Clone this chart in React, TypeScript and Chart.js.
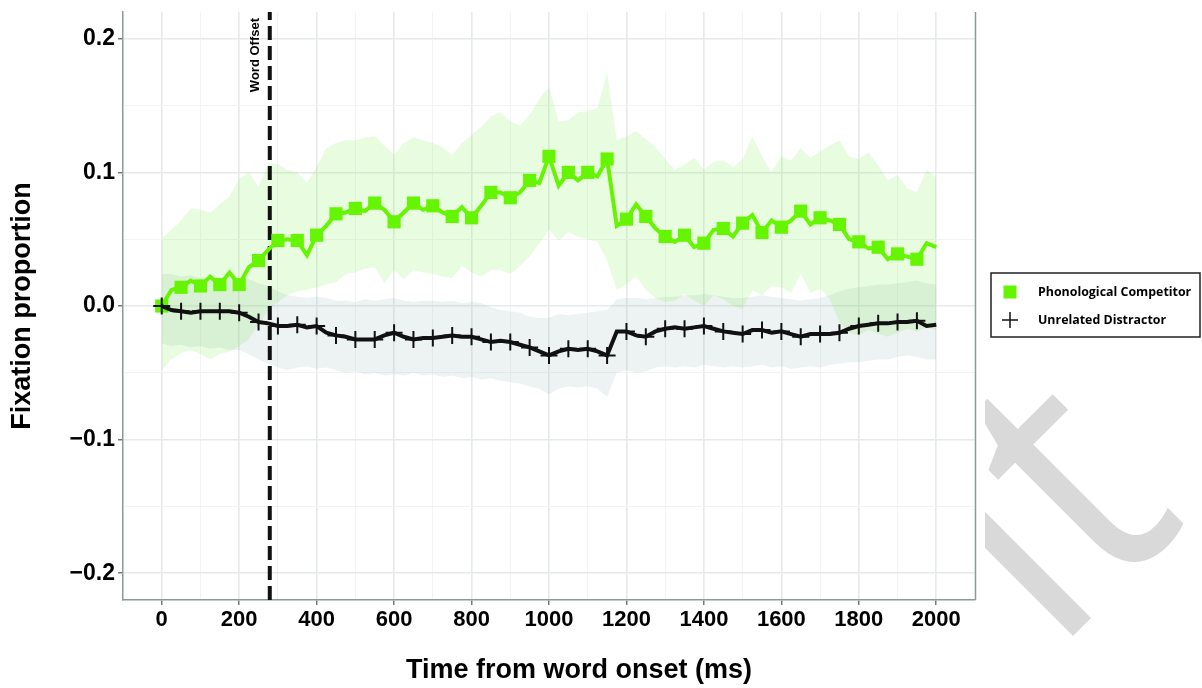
import React, { useEffect, useRef } from 'react';
import { Chart, registerables } from 'chart.js';

Chart.register(...registerables);

// ---------------- data ----------------
const TIME = [
  0, 25, 50, 75, 100, 125, 150, 175,
  200, 225, 250, 275, 300, 325, 350, 375,
  400, 425, 450, 475, 500, 525, 550, 575,
  600, 625, 650, 675, 700, 725, 750, 775,
  800, 825, 850, 875, 900, 925, 950, 975,
  1000, 1025, 1050, 1075, 1100, 1125, 1150, 1175,
  1200, 1225, 1250, 1275, 1300, 1325, 1350, 1375,
  1400, 1425, 1450, 1475, 1500, 1525, 1550, 1575,
  1600, 1625, 1650, 1675, 1700, 1725, 1750, 1775,
  1800, 1825, 1850, 1875, 1900, 1925, 1950, 1975,
  2000,
];

const PHON_MEAN = [
  0.000, 0.012, 0.014, 0.019, 0.015, 0.022, 0.016, 0.025,
  0.016, 0.029, 0.034, 0.042, 0.049, 0.050, 0.049, 0.038,
  0.053, 0.060, 0.069, 0.070, 0.073, 0.071, 0.077, 0.072,
  0.063, 0.070, 0.077, 0.072, 0.075, 0.070, 0.067, 0.074,
  0.066, 0.075, 0.085, 0.085, 0.081, 0.085, 0.094, 0.092,
  0.112, 0.090, 0.100, 0.094, 0.100, 0.097, 0.110, 0.060,
  0.065, 0.076, 0.067, 0.058, 0.052, 0.048, 0.053, 0.044,
  0.047, 0.057, 0.058, 0.052, 0.062, 0.068, 0.055, 0.064,
  0.059, 0.064, 0.071, 0.061, 0.066, 0.064, 0.061, 0.050,
  0.048, 0.043, 0.044, 0.035, 0.039, 0.037, 0.035, 0.047,
  0.044,
];

const PHON_UPPER = [
  0.051, 0.057, 0.064, 0.073, 0.072, 0.070, 0.076, 0.082,
  0.095, 0.100, 0.089, 0.107, 0.106, 0.102, 0.100, 0.092,
  0.104, 0.118, 0.122, 0.124, 0.124, 0.126, 0.127, 0.120,
  0.113, 0.122, 0.126, 0.124, 0.122, 0.119, 0.113, 0.122,
  0.128, 0.134, 0.142, 0.145, 0.138, 0.135, 0.143, 0.155,
  0.164, 0.138, 0.139, 0.145, 0.146, 0.148, 0.175, 0.124,
  0.127, 0.131, 0.125, 0.119, 0.110, 0.102, 0.106, 0.111,
  0.102, 0.108, 0.109, 0.104, 0.110, 0.127, 0.112, 0.100,
  0.112, 0.109, 0.118, 0.111, 0.116, 0.120, 0.124, 0.112,
  0.110, 0.115, 0.105, 0.094, 0.098, 0.088, 0.085, 0.102,
  0.096,
];

const PHON_LOWER = [
  -0.048, -0.040, -0.035, -0.033, -0.036, -0.040, -0.036, -0.034,
  -0.030, -0.025, -0.014, -0.003, 0.003, 0.008, 0.011, 0.012,
  0.014, 0.016, 0.018, 0.024, 0.025, 0.028, 0.029, 0.017,
  0.027, 0.020, 0.027, 0.025, 0.024, 0.022, 0.021, 0.030,
  0.025, 0.022, 0.027, 0.027, 0.024, 0.030, 0.037, 0.047,
  0.057, 0.049, 0.055, 0.052, 0.050, 0.048, 0.034, 0.012,
  0.016, 0.022, 0.012, 0.006, 0.003, 0.004, 0.009, 0.004,
  0.000, 0.008, 0.005, 0.000, -0.002, 0.012, 0.008, 0.015,
  0.014, 0.010, 0.024, 0.010, 0.013, 0.005, -0.012, -0.020,
  -0.022, -0.018, -0.021, -0.023, -0.020, -0.017, -0.019, -0.016,
  -0.018,
];

const UNREL_MEAN = [
  0.000, -0.003, -0.004, -0.005, -0.004, -0.004, -0.004, -0.004,
  -0.005, -0.008, -0.012, -0.013, -0.015, -0.015, -0.014, -0.016,
  -0.015, -0.020, -0.022, -0.023, -0.025, -0.025, -0.025, -0.022,
  -0.020, -0.023, -0.025, -0.024, -0.024, -0.023, -0.022, -0.023,
  -0.023, -0.025, -0.027, -0.026, -0.027, -0.029, -0.031, -0.034,
  -0.037, -0.034, -0.032, -0.033, -0.032, -0.034, -0.037, -0.019,
  -0.019, -0.022, -0.023, -0.019, -0.017, -0.016, -0.017, -0.016,
  -0.015, -0.017, -0.019, -0.020, -0.021, -0.018, -0.018, -0.020,
  -0.019, -0.021, -0.023, -0.021, -0.021, -0.021, -0.020, -0.017,
  -0.015, -0.014, -0.013, -0.013, -0.012, -0.012, -0.011, -0.015,
  -0.014,
];

const UNREL_UPPER = [
  0.024, 0.024, 0.022, 0.023, 0.021, 0.022, 0.020, 0.021,
  0.019, 0.020, 0.017, 0.015, 0.011, 0.008, 0.007, 0.006,
  0.007, 0.006, 0.004, 0.004, 0.003, 0.005, 0.004, 0.005,
  0.006, 0.004, 0.003, 0.004, 0.004, 0.003, 0.004, 0.002,
  0.003, 0.002, -0.001, -0.003, -0.004, -0.005, -0.008, -0.009,
  -0.009, -0.006, -0.007, -0.006, -0.005, -0.004, -0.003, 0.005,
  0.006, 0.006, 0.005, 0.006, 0.007, 0.007, 0.008, 0.008,
  0.009, 0.008, 0.007, 0.006, 0.006, 0.007, 0.008, 0.007,
  0.006, 0.005, 0.004, 0.005, 0.006, 0.008, 0.011, 0.013,
  0.014, 0.015, 0.016, 0.016, 0.017, 0.018, 0.019, 0.017,
  0.016,
];

const UNREL_LOWER = [
  -0.028, -0.030, -0.029, -0.031, -0.030, -0.032, -0.031, -0.033,
  -0.033, -0.036, -0.040, -0.043, -0.046, -0.048, -0.046, -0.045,
  -0.047, -0.046, -0.048, -0.050, -0.049, -0.051, -0.050, -0.052,
  -0.051, -0.052, -0.050, -0.052, -0.051, -0.053, -0.052, -0.054,
  -0.053, -0.055, -0.054, -0.056, -0.057, -0.058, -0.060, -0.062,
  -0.066, -0.062, -0.060, -0.061, -0.060, -0.062, -0.068, -0.050,
  -0.048, -0.050, -0.049, -0.046, -0.045, -0.046, -0.045, -0.046,
  -0.044, -0.045, -0.046, -0.045, -0.046, -0.045, -0.044, -0.046,
  -0.045, -0.047, -0.046, -0.045, -0.046, -0.044, -0.043, -0.042,
  -0.042, -0.041, -0.040, -0.040, -0.038, -0.037, -0.038, -0.040,
  -0.040,
];

const WORD_OFFSET_MS = 279;
const X_TICKS = [0, 100, 200, 300, 400, 500, 600, 700, 800, 900, 1000, 1100, 1200, 1300, 1400, 1500, 1600, 1700, 1800, 1900, 2000];
const X_LABELED = [0, 200, 400, 600, 800, 1000, 1200, 1400, 1600, 1800, 2000];
const Y_TICKS = [-0.2, -0.15, -0.1, -0.05, 0, 0.05, 0.1, 0.15, 0.2];
const Y_LABELED = [-0.2, -0.1, 0, 0.1, 0.2];
const SERIES_LABELS = ['Phonological Competitor', 'Unrelated Distractor'];
const X_TITLE = 'Time from word onset (ms)';
const Y_TITLE = 'Fixation proportion';
const OFFSET_LABEL = 'Word Offset';
const WATERMARK = 'it';

// ---------------- styles ----------------
const GREEN = '#66f500';
const BLACK = '#111111';
const GREEN_BAND = 'rgba(110, 235, 60, 0.16)';
const GRAY_BAND = 'rgba(150, 175, 175, 0.17)';
const AXIS_COLOR = '#8d9999';

const pts = (vals: number[]) => TIME.map((t, i) => ({ x: t, y: vals[i] }));
const isMarker = (t: number) => t % 50 === 0 && t < 2000;
const near = (v: number, list: number[]) => list.some((u) => Math.abs(u - v) < 1e-9);

export default function App() {
  const ref = useRef<HTMLCanvasElement | null>(null);

  useEffect(() => {
    document.body.style.margin = '0';
    const canvas = ref.current;
    if (!canvas) return;

    const extras = {
      id: 'extras',
      beforeDraw(chart: any) {
        const { ctx, chartArea } = chart;
        // faint watermark showing at the right margin
        ctx.save();
        ctx.beginPath();
        ctx.rect(chartArea.right + 10, 340, 400, 400);
        ctx.clip();
        ctx.translate(1054, 655);
        ctx.rotate(-Math.PI / 4);
        ctx.scale(1, 1.1);
        ctx.fillStyle = '#d9d9d9';
        ctx.font = '400 315px "Open Sans"';
        ctx.textAlign = 'left';
        ctx.textBaseline = 'alphabetic';
        ctx.fillText(WATERMARK, 0, 0);
        ctx.restore();
      },
      afterDraw(chart: any) {
        const { ctx, chartArea } = chart;
        const xs = chart.scales.x;
        ctx.save();
        // right panel border
        ctx.strokeStyle = AXIS_COLOR;
        ctx.lineWidth = 1.5;
        ctx.beginPath();
        ctx.moveTo(chartArea.right + 0.5, chartArea.top);
        ctx.lineTo(chartArea.right + 0.5, chartArea.bottom);
        ctx.stroke();

        // word offset label
        const wx = xs.getPixelForValue(WORD_OFFSET_MS);
        ctx.save();
        ctx.translate(wx - 14, chartArea.top + 6);
        ctx.rotate(-Math.PI / 2);
        ctx.fillStyle = '#000';
        ctx.font = 'bold 13px "Liberation Sans"';
        ctx.textAlign = 'right';
        ctx.textBaseline = 'middle';
        ctx.fillText(OFFSET_LABEL, 0, 0);
        ctx.restore();

        // x axis title
        ctx.fillStyle = '#000';
        ctx.font = 'bold 27px "Liberation Sans"';
        ctx.textAlign = 'center';
        ctx.textBaseline = 'middle';
        ctx.fillText(X_TITLE, (chartArea.left + chartArea.right) / 2 + 30, 671);

        // legend
        const lx = chartArea.right + 16;
        const cy = (chartArea.top + chartArea.bottom) / 2;
        const ly = cy - 33;
        const lw = 209;
        const lh = 64;
        ctx.fillStyle = '#fff';
        ctx.fillRect(lx, ly, lw, lh);
        ctx.strokeStyle = '#222';
        ctx.lineWidth = 1.5;
        ctx.strokeRect(lx, ly, lw, lh);
        const ds = chart.data.datasets;
        const items = ds.filter((d: any) => SERIES_LABELS.includes(d.label));
        items.sort((a: any, b: any) => SERIES_LABELS.indexOf(a.label) - SERIES_LABELS.indexOf(b.label));
        items.forEach((d: any, i: number) => {
          const iy = ly + 19 + i * 28;
          const mx = lx + 19;
          if (d.pointStyle === 'rect') {
            ctx.fillStyle = d.pointBackgroundColor;
            ctx.fillRect(mx - 6.5, iy - 6.5, 13, 13);
          } else {
            ctx.strokeStyle = d.pointBorderColor;
            ctx.lineWidth = 1.5;
            ctx.beginPath();
            ctx.moveTo(mx - 8, iy);
            ctx.lineTo(mx + 8, iy);
            ctx.moveTo(mx, iy - 8);
            ctx.lineTo(mx, iy + 8);
            ctx.stroke();
          }
          ctx.fillStyle = '#000';
          ctx.font = 'bold 12.4px "Open Sans"';
          ctx.textAlign = 'left';
          ctx.textBaseline = 'middle';
          ctx.fillText(d.label, lx + 47, iy);
        });
        ctx.restore();
      },
    };

    const gridColor = (list: number[]) => (c: any) => (c.tick && near(c.tick.value, list) ? '#e6eaea' : '#f2f4f4');
    const gridWidth = (list: number[]) => (c: any) => (c.tick && near(c.tick.value, list) ? 1.6 : 1);
    const tickColor = (list: number[]) => (c: any) => (c.tick && near(c.tick.value, list) ? '#555' : 'rgba(0,0,0,0)');

    const chart = new Chart(canvas, {
      type: 'line',
      data: {
        datasets: [
          {
            label: SERIES_LABELS[1],
            data: pts(UNREL_MEAN),
            borderColor: BLACK,
            borderWidth: 4,
            pointStyle: 'cross',
            pointRadius: (c: any) => (isMarker(TIME[c.dataIndex]) ? 8.5 : 0),
            pointBorderColor: BLACK,
            pointBackgroundColor: BLACK,
            pointBorderWidth: 2,
            tension: 0,
            order: 1,
          },
          {
            label: SERIES_LABELS[0],
            data: pts(PHON_MEAN),
            borderColor: GREEN,
            borderWidth: 4,
            pointStyle: 'rect',
            pointRadius: (c: any) => (isMarker(TIME[c.dataIndex]) ? 9.3 : 0),
            pointBackgroundColor: GREEN,
            pointBorderColor: GREEN,
            pointBorderWidth: 0,
            tension: 0,
            order: 2,
          },
          {
            label: 'offset',
            data: [
              { x: WORD_OFFSET_MS, y: -0.22 },
              { x: WORD_OFFSET_MS, y: 0.22 },
            ],
            borderColor: BLACK,
            borderWidth: 4,
            borderDash: [14, 6],
            pointRadius: 0,
            order: 3,
          },
          {
            label: 'phon-upper',
            data: pts(PHON_UPPER),
            borderWidth: 0,
            borderColor: 'rgba(0,0,0,0)',
            backgroundColor: GREEN_BAND,
            pointRadius: 0,
            fill: '+1',
            order: 4,
          },
          {
            label: 'phon-lower',
            data: pts(PHON_LOWER),
            borderWidth: 0,
            borderColor: 'rgba(0,0,0,0)',
            pointRadius: 0,
            fill: false,
            order: 4,
          },
          {
            label: 'unrel-upper',
            data: pts(UNREL_UPPER),
            borderWidth: 0,
            borderColor: 'rgba(0,0,0,0)',
            backgroundColor: GRAY_BAND,
            pointRadius: 0,
            fill: '+1',
            order: 5,
          },
          {
            label: 'unrel-lower',
            data: pts(UNREL_LOWER),
            borderWidth: 0,
            borderColor: 'rgba(0,0,0,0)',
            pointRadius: 0,
            fill: false,
            order: 5,
          },
        ],
      },
      options: {
        animation: false,
        responsive: false,
        devicePixelRatio: 1,
        layout: { padding: { left: 0, top: 12, right: 227, bottom: 0 } },
        plugins: {
          legend: { display: false },
          tooltip: { enabled: false },
        },
        scales: {
          x: {
            type: 'linear',
            min: -100,
            max: 2100,
            afterBuildTicks: (s: any) => {
              s.ticks = X_TICKS.map((v) => ({ value: v }));
            },
            afterFit: (s: any) => {
              s.height = 88;
              s.paddingLeft = 0;
              s.paddingRight = 0;
              s.paddingTop = 0;
              s.paddingBottom = 0;
            },
            ticks: {
              autoSkip: false,
              maxRotation: 0,
              color: '#000',
              font: { family: '"Liberation Sans"', size: 22, weight: 'bold' },
              padding: 2,
              callback: (v: any) => (near(Number(v), X_LABELED) ? String(v) : ''),
            },
            grid: {
              color: gridColor(X_LABELED),
              lineWidth: gridWidth(X_LABELED),
              tickColor: tickColor(X_LABELED),
              tickLength: 5,
              tickWidth: 1.2,
            },
            border: { display: true, color: AXIS_COLOR, width: 1.5 },
          },
          y: {
            type: 'linear',
            min: -0.22,
            max: 0.22,
            afterBuildTicks: (s: any) => {
              s.ticks = Y_TICKS.map((v) => ({ value: v }));
            },
            afterFit: (s: any) => {
              s.width = 123;
              s.paddingLeft = 0;
              s.paddingRight = 0;
              s.paddingTop = 0;
              s.paddingBottom = 0;
            },
            ticks: {
              autoSkip: false,
              color: '#000',
              font: { family: '"Liberation Sans"', size: 23, weight: 'bold' },
              padding: 3,
              callback: (v: any) => {
                const n = Number(v);
                if (!near(n, Y_LABELED)) return '';
                const s = Math.abs(n).toFixed(1);
                return n < -1e-9 ? '\u2212' + s : s;
              },
            },
            grid: {
              color: gridColor(Y_LABELED),
              lineWidth: gridWidth(Y_LABELED),
              tickColor: tickColor(Y_LABELED),
              tickLength: 5,
              tickWidth: 1.2,
            },
            border: { display: true, color: AXIS_COLOR, width: 1.5 },
            title: {
              display: true,
              text: Y_TITLE,
              color: '#000',
              font: { family: '"Liberation Sans"', size: 27, weight: 'bold' },
              padding: { top: 6, bottom: 0 },
            },
          },
        },
      },
      plugins: [extras],
    } as any);

    return () => chart.destroy();
  }, []);

  return (
    <div style={{ width: 1202, height: 688, position: 'relative' }}>
      <canvas ref={ref} width={1202} height={688} style={{ display: 'block', width: 1202, height: 688 }} />
    </div>
  );
}
